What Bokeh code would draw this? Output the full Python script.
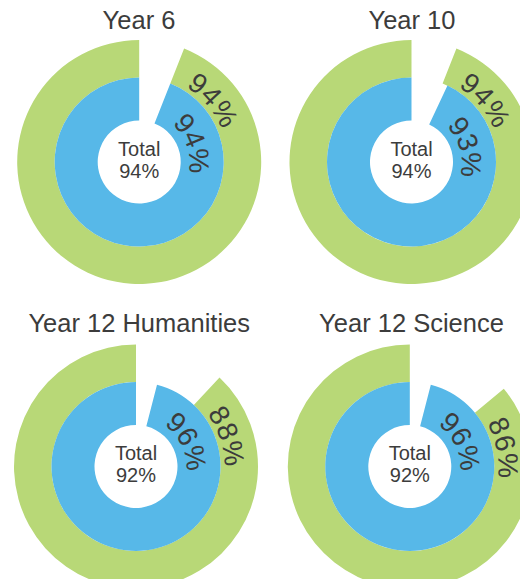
import math
from bokeh.plotting import figure
from bokeh.models import Range1d, ColumnDataSource
from bokeh.core.properties import value
from bokeh.embed import file_html
from bokeh.resources import INLINE

# ---- data ----
titles = ["Year 6", "Year 10", "Year 12 Humanities", "Year 12 Science"]
outer_values = [94, 94, 88, 86]   # green ring
inner_values = [94, 93, 96, 96]   # blue ring
totals = [94, 94, 92, 92]

# ---- style / layout ----
GREEN = "#b8d877"
BLUE = "#57b8e8"
TEXT = "#3c3c3c"
FONT = "Liberation Sans"
W, H = 520, 579

centers = [(138.7, 161.5), (411.0, 161.5), (135.5, 466.0), (409.3, 466.0)]
title_pos = [(138.5, 19.5), (411.5, 19.5), (138.7, 322.0), (411.0, 322.0)]
R_IN, R_MID, R_OUT = 41.5, 84.5, 122.0


def py(y):
    return H - y


p = figure(width=W, height=H, output_backend="svg", toolbar_location=None,
           x_range=Range1d(0, W), y_range=Range1d(0, H), min_border=0)
p.axis.visible = False
p.grid.visible = False
p.outline_line_color = None
p.background_fill_color = "white"
p.border_fill_color = "white"

cx = [c[0] for c in centers]
cy = [py(c[1]) for c in centers]

green_src = ColumnDataSource(dict(x=cx, y=cy,
                                  end=[math.pi / 2 + 2 * math.pi * v / 100 for v in outer_values]))
blue_src = ColumnDataSource(dict(x=cx, y=cy,
                                 end=[math.pi / 2 + 2 * math.pi * v / 100 for v in inner_values]))

p.annular_wedge(x="x", y="y", inner_radius=R_MID, outer_radius=R_OUT,
                start_angle=math.pi / 2, end_angle="end", direction="anticlock",
                fill_color=GREEN, line_color=None, source=green_src)
p.annular_wedge(x="x", y="y", inner_radius=R_IN, outer_radius=R_MID,
                start_angle=math.pi / 2, end_angle="end", direction="anticlock",
                fill_color=BLUE, line_color=None, source=blue_src)

# titles
p.text(x=[t[0] for t in title_pos], y=[py(t[1]) for t in title_pos], text=titles,
       text_font=value(FONT), text_font_size="25.5px", text_color=TEXT,
       text_align="center", text_baseline="middle")

# centre texts
p.text(x=cx, y=[y + 13.3 for y in cy], text=["Total"] * 4,
       text_font=value(FONT), text_font_size="20px", text_color=TEXT,
       text_align="center", text_baseline="middle")
p.text(x=cx, y=[y - 8.5 for y in cy], text=[f"{t}%" for t in totals],
       text_font=value(FONT), text_font_size="20px", text_color=TEXT,
       text_align="center", text_baseline="middle")

# curved labels along arcs
WID = {c: 0.556 for c in "0123456789"}
WID["%"] = 0.889
FS = 28
SPACING = 2.5

lx, ly, lt, la = [], [], [], []


def arc_label(txt, x0, y0, r, gap_rad, l0):
    pos = l0 - WID[txt[0]] * FS / 2
    for ch in txt:
        w = WID[ch] * FS
        c = pos + w / 2
        th = gap_rad + c / r
        lx.append(x0 + r * math.sin(th))
        ly.append(y0 + r * math.cos(th))
        lt.append(ch)
        la.append(-th)
        pos += w + SPACING


for i in range(4):
    arc_label(f"{outer_values[i]}%", cx[i], cy[i], 98.0,
              2 * math.pi * (1 - outer_values[i] / 100), 26.0)
    arc_label(f"{inner_values[i]}%", cx[i], cy[i], 59.5,
              2 * math.pi * (1 - inner_values[i] / 100), 29.0)

p.text(x=lx, y=ly, text=lt, angle=la, text_font=value(FONT), text_font_size=f"{FS}px",
       text_color=TEXT, text_align="center", text_baseline="middle")

open("out.html", "w").write(file_html(p, INLINE))
